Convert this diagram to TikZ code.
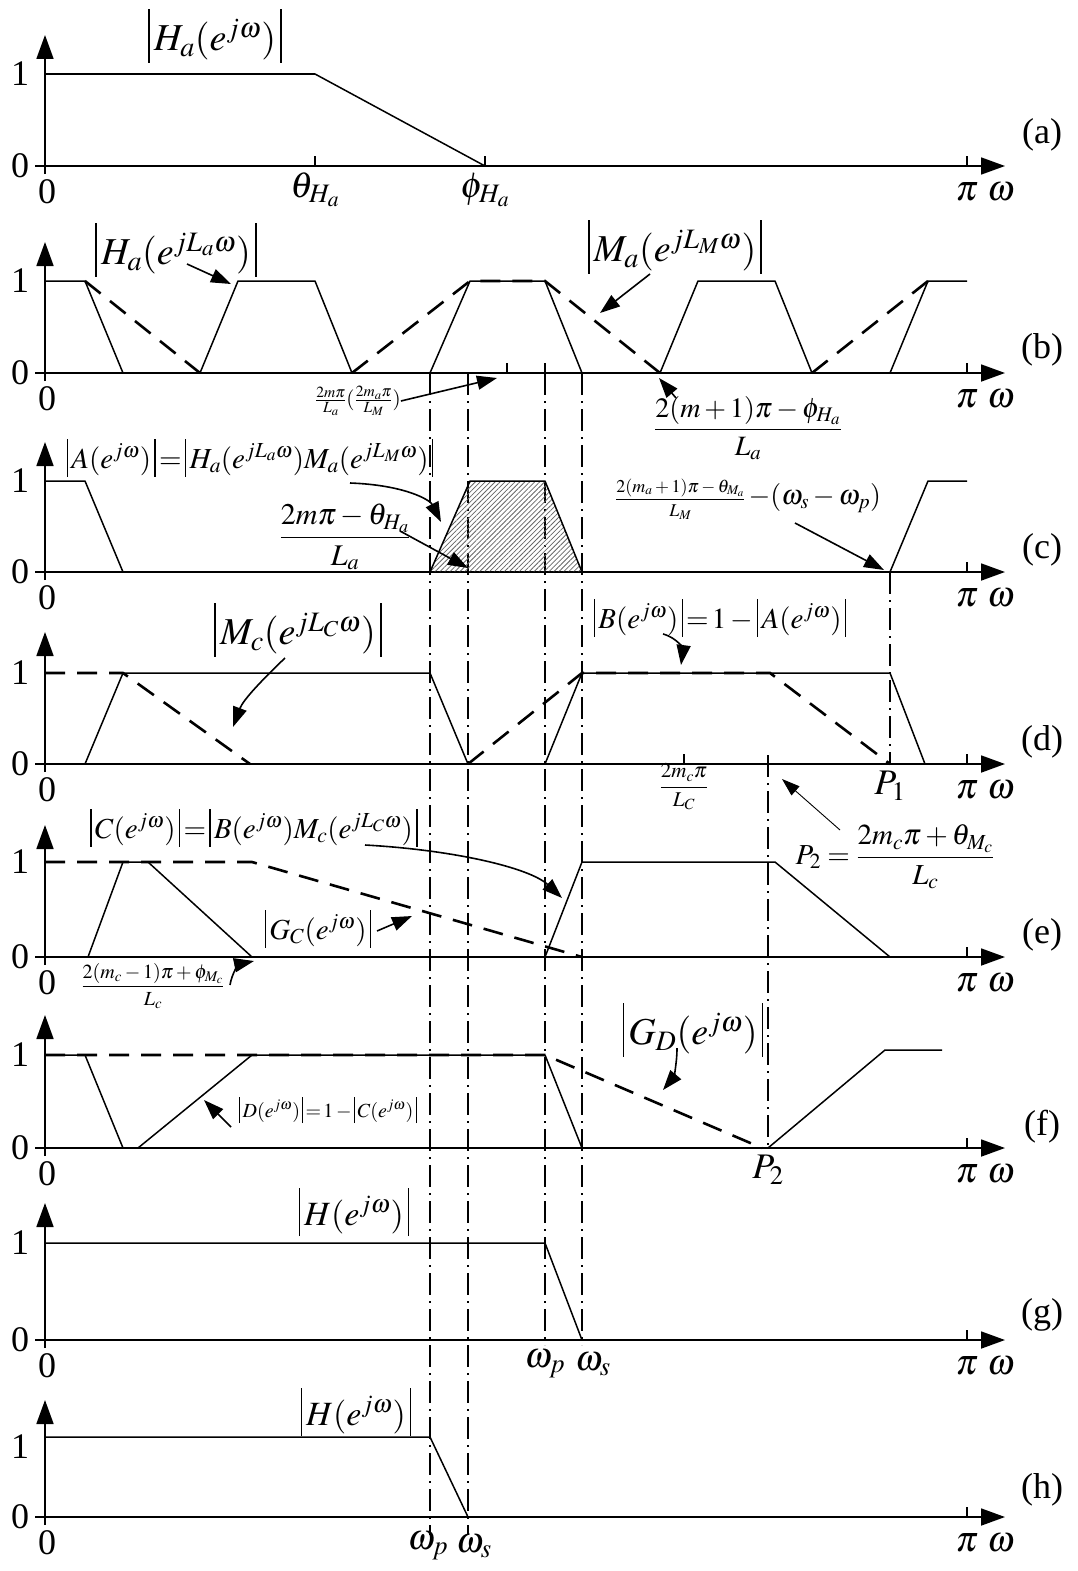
\documentclass[tikz,border=0pt]{standalone}
\usepackage{amsmath}
\usepackage{mathptmx}
\usepackage{fontspec}
\setmainfont{Liberation Serif}
\usetikzlibrary{arrows.meta,patterns.meta}
\newcommand{\abar}{\mathord{\vrule height 1.1em depth 0.32em width 0.04em}}
\newcommand{\sbar}{\mathord{\vrule height 1.0em depth 0.3em width 0.05em}}
\begin{document}
\begin{tikzpicture}[x=1pt,y=-1pt,
  ax/.style={line width=1.8pt,-{Triangle[length=24pt,width=17pt]}},
  crv/.style={line width=1.5pt,line join=round},
  dcrv/.style={line width=2.6pt,dash pattern=on 20pt off 12pt},
  guide/.style={line width=1.5pt,dash pattern=on 22pt off 6pt on 2pt off 6pt},
  tck/.style={line width=1.5pt},
  pt/.style={inner sep=0pt},
  num/.style={pt,font=\fontsize{36}{40}\selectfont},
  big/.style={pt,font=\fontsize{38}{42}\selectfont},
  hbig/.style={pt,font=\fontsize{34}{38}\selectfont},
  mid/.style={pt,font=\fontsize{29}{33}\selectfont},
  sml/.style={pt,font=\fontsize{21}{25}\selectfont},
  arr/.style={line width=1.6pt,-{Triangle[length=20pt,width=14pt]}},
  thinarr/.style={line width=0.9pt,-{Triangle[length=18pt,width=12pt]}},
  ]
\useasboundingbox (0,0) rectangle (1078,1571);
% axes of all panels
\foreach \n/\ay/\oy/\ty/\ly in {a/166/74/35/135, b/373/281/242/350, c/572/481/442/550, d/764/673/632/742, e/957/862/825/935, f/1148/1055/1015/1127, g/1340/1243/1203/1315, h/1517/1447/1400/1490}{
  \draw[ax] (35,\ay) -- (1005,\ay);
  \draw[ax] (45,\ay+8) -- (45,\ty);
  \draw[tck] (967,\ay) -- (967,\ay-10);
  \node[num,name=one\n] at (20,\oy) {1};
  \node[num,name=zero\n] at (20,\ay) {0};
  \node[num,name=orig\n] at (47,\ay+26) {0};
  \node[num,name=pi\n] at (967,\ay+26) {$\pi$};
  \node[num,name=om\n] at (1001,\ay+26) {$\omega$};
  \node[num,name=lab\n] at (1042,\ly) {(\n)};
}
% guide lines
\draw[guide] (430,373) -- (430,1535);
\draw[guide] (468,373) -- (468,1535);
\draw[guide] (545,373) -- (545,1345);
\draw[guide] (582,373) -- (582,1345);
\draw[guide] (890,572) -- (890,764);
\draw[guide] (768,755) -- (768,1148);
% ---------- (a)
\draw[crv] (45,74) -- (315,74) -- (485,166);
\draw[tck] (315,166) -- (315,156);
\draw[tck] (485,166) -- (485,156);
\node[num] (tha) at (315,190) {$\theta_{H_a}$};
\node[num] (pha) at (485,190) {$\phi_{H_a}$};
\node[big] (Ha) at (215,36) {$\abar\,H_a(e^{j\omega})\,\abar$};
% ---------- (b)
\draw[crv] (45,281)--(85,281)--(123,373);
\draw[crv] (200,373)--(238,281)--(315,281)--(352,373);
\draw[crv] (430,373)--(470,281)--(545,281)--(582,373);
\draw[crv] (660,373)--(698,281)--(775,281)--(812,373);
\draw[crv] (890,373)--(928,281)--(967,281);
\draw[dcrv] (85,281)--(200,373);
\draw[dcrv] (352,373)--(470,281)--(545,281)--(660,373);
\draw[dcrv] (812,373)--(928,281);
\draw[tck] (507,373) -- (507,363);
\draw[tck] (545,373) -- (545,363);
\node[big] (HaL) at (176,250) {$\abar\,H_a(e^{jL_a\omega})\,\abar$};
\coordinate (HaLs) at (187,264);
\coordinate (HaLe) at (231,284);
\draw[arr] (HaLs) -- (HaLe);
\node[big] (MaL) at (675,247) {$\abar\,M_a(e^{jL_M\omega})\,\abar$};
\coordinate (MaLs) at (650,274);
\coordinate (MaLe) at (600,313);
\draw[arr] (MaLs) -- (MaLe);
\node[sml] (fb1) at (358,401) {$\frac{2m\pi}{L_a}(\frac{2m_a\pi}{L_M})$};
\coordinate (fb1e) at (497,378);
\draw[arr] (fb1.east) -- (fb1e);
\node[pt,font=\fontsize{28}{32}\selectfont] (fb2) at (748,428) {$\dfrac{2(m+1)\pi-\phi_{H_a}}{L_a}$};
\coordinate (fb2s) at (676,398);
\coordinate (fb2e) at (659,378);
\draw[arr] (fb2s) -- (fb2e);
% ---------- (c)
\draw[crv] (45,481)--(85,481)--(123,572);
\draw[crv,pattern={Lines[angle=45,distance=3.5pt,line width=0.8pt]},pattern color=black!60] (430,572)--(470,481)--(545,481)--(582,572)--cycle;
\draw[crv] (890,572)--(928,481)--(967,481);
\node[mid] (Aeq) at (250,458) {$\sbar\,A(e^{j\omega})\,\sbar\,{=}\,\sbar\,H_a(e^{jL_a\omega})M_a(e^{jL_M\omega})\,\sbar$};
\coordinate (Aeqs) at (350,483);
\coordinate (Aeqe) at (441,522);
\draw[arr] (Aeqs) .. controls (405,485) and (430,500) .. (Aeqe);
\node[pt,font=\fontsize{30}{34}\selectfont] (fc1) at (345,537) {$\dfrac{2m\pi-\theta_{H_a}}{L_a}$};
\coordinate (fc1s) at (400,531);
\coordinate (fc1e) at (468,568);
\draw[arr] (fc1s) -- (fc1e);
\node[pt,anchor=west] (fc2) at (615,499) {{\fontsize{18}{22}\selectfont$\dfrac{2(m_a+1)\pi-\theta_{M_a}}{L_M}$}{\fontsize{28}{32}\selectfont$\,-(\omega_s-\omega_p)$}};
\coordinate (fc2s) at (795,523);
\coordinate (fc2e) at (884,570);
\draw[arr] (fc2s) -- (fc2e);
% ---------- (d)
\draw[crv] (85,764)--(123,673)--(430,673)--(468,764);
\draw[crv] (545,764)--(582,673)--(890,673)--(925,764);
\draw[dcrv] (45,673)--(123,673)--(250,764);
\draw[dcrv] (468,764)--(582,673)--(770,673)--(890,764);
\draw[tck] (684,764) -- (684,754);
\node[big] (McL) at (298,630) {$\abar\,M_c(e^{jL_C\omega})\,\abar$};
\coordinate (McLs) at (285,658);
\coordinate (McLe) at (233,727);
\draw[arr] (McLs) .. controls (262,680) and (243,700) .. (McLe);
\node[mid] (Beq) at (720,618) {$\sbar\,B(e^{j\omega})\,\sbar\,{=}\,1-\sbar\,A(e^{j\omega})\,\sbar$};
\coordinate (Beqs) at (663,634);
\coordinate (Beqe) at (681,665);
\draw[arr] (Beqs) .. controls (678,638) and (683,650) .. (Beqe);
\node[sml] (fd1) at (684,787) {$\dfrac{2m_c\pi}{L_C}$};
\node[num] (P1) at (890,786) {$P_1$};
% ---------- (e)
\draw[crv] (88,957)--(123,862)--(148,862)--(252,957);
\draw[crv] (545,957)--(582,862)--(775,862)--(890,957);
\draw[dcrv] (45,862)--(252,862)--(582,957);
\node[mid] (Ceq) at (254,828) {$\sbar\,C(e^{j\omega})\,\sbar\,{=}\,\sbar\,B(e^{j\omega})M_c(e^{jL_C\omega})\,\sbar$};
\coordinate (Ceqs) at (365,845);
\coordinate (Ceqe) at (562,898);
\draw[arr] (Ceqs) .. controls (455,850) and (530,868) .. (Ceqe);
\node[mid] (GcL) at (318,929) {$\sbar\,G_C(e^{j\omega})\,\sbar$};
\coordinate (GcLs) at (377,931);
\coordinate (GcLe) at (412,916);
\draw[arr] (GcLs) -- (GcLe);
\node[pt,font=\fontsize{20}{24}\selectfont] (fe1) at (153,986) {$\dfrac{2(m_c-1)\pi+\phi_{M_c}}{L_c}$};
\coordinate (fe1s) at (230,985);
\coordinate (fe1e) at (254,961);
\draw[arr] (fe1s) .. controls (232,972) and (240,964) .. (fe1e);
\node[mid] (P2eq) at (895,857) {$P_2=\dfrac{2m_c\pi+\theta_{M_c}}{L_c}$};
\coordinate (P2s) at (840,830);
\coordinate (P2e) at (782,779);
\draw[thinarr] (P2s) -- (P2e);
% ---------- (f)
\draw[crv] (45,1055)--(85,1055)--(123,1148);
\draw[crv] (138,1148)--(252,1055)--(545,1055)--(582,1148);
\draw[crv] (768,1148)--(885,1050)--(942,1050);
\draw[dcrv] (45,1055)--(545,1055)--(762,1148);
\node[pt,font=\fontsize{20}{24}\selectfont] (Deq) at (328,1110) {$\sbar\,D(e^{j\omega})\,\sbar\,{=}\,1-\sbar\,C(e^{j\omega})\,\sbar$};
\coordinate (Deqs) at (231,1127);
\coordinate (Deqe) at (204,1100);
\draw[arr] (Deqs) -- (Deqe);
\node[big] (GdL) at (693,1030) {$\abar\,G_D(e^{j\omega})\,\abar$};
\coordinate (GdLs) at (677,1048);
\coordinate (GdLe) at (663,1090);
\draw[arr] (GdLs) .. controls (677,1065) and (673,1078) .. (GdLe);
\node[num] (P2) at (768,1170) {$P_2$};
% ---------- (g)
\draw[crv] (45,1243)--(545,1243)--(582,1340);
\node[hbig] (Hg) at (354,1212) {$\abar\,H(e^{j\omega})\,\abar$};
\node[num] (wpg) at (545,1364) {$\omega_p$};
\node[num] (wsg) at (593,1364) {$\omega_s$};
% ---------- (h)
\draw[crv] (45,1437)--(430,1437)--(468,1517);
\node[hbig] (Hh) at (356,1412) {$\abar\,H(e^{j\omega})\,\abar$};
\node[num] (wph) at (428,1546) {$\omega_p$};
\node[num] (wsh) at (474,1546) {$\omega_s$};
\end{tikzpicture}
\end{document}
